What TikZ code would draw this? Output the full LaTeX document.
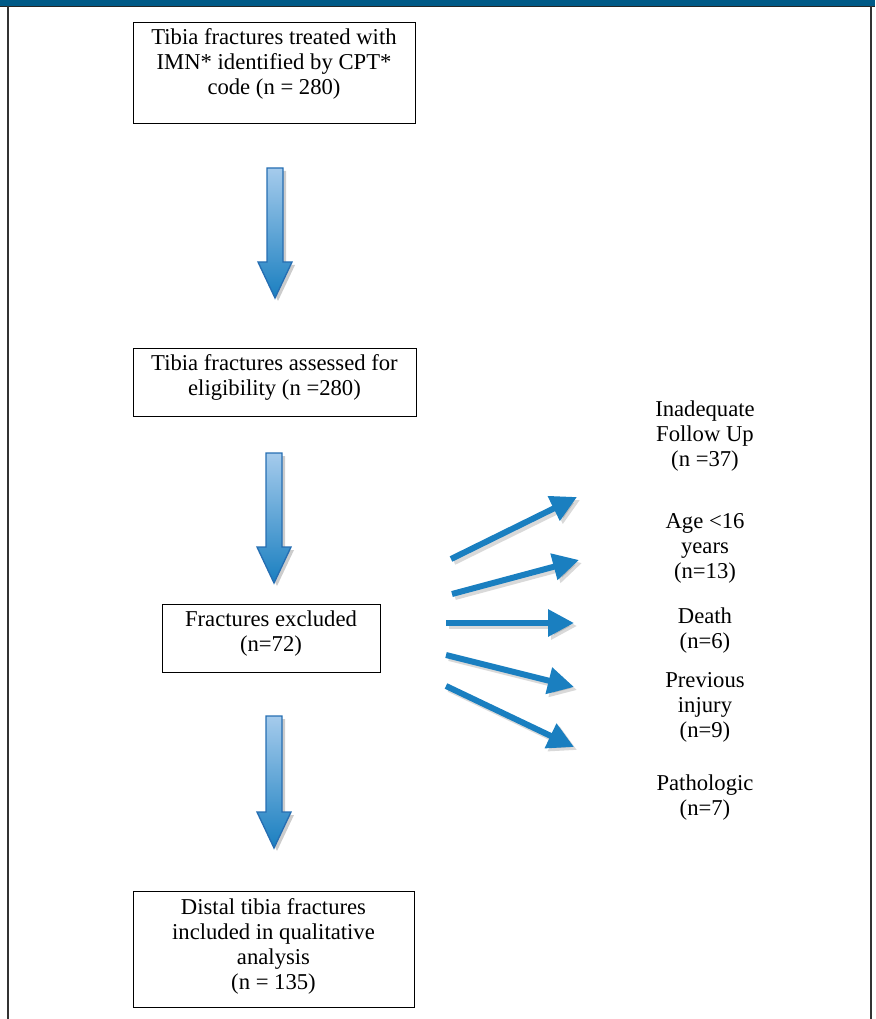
\documentclass[tikz,border=0pt]{standalone}
\usepackage{fontspec}
\setmainfont{Liberation Serif}
\usetikzlibrary{arrows.meta,calc}
\definecolor{band}{RGB}{0,90,135}
\definecolor{arrblue}{RGB}{26,127,192}
\definecolor{arrlight}{RGB}{165,203,236}
\definecolor{arredge}{RGB}{38,110,178}
\newcommand\myVArrow[4]{% name, cx, top, tip
  \coordinate (#1s) at (#2,#3);
  \coordinate (#1e) at (#2,#4);
  \fill[black,opacity=0.2] (#2-5,#3+3) -- (#2+11,#3+3) -- (#2+11,#4-33) -- (#2+20,#4-33) -- (#2+3,#4+3) -- (#2-14,#4-33) -- (#2-5,#4-33) -- cycle;
  \shade[top color=arrlight, bottom color=arrblue, draw=arredge, line width=1pt]
    (#2-8,#3) -- (#2+8,#3) -- (#2+8,#4-36) -- (#2+17,#4-36) -- (#1e) -- (#2-17,#4-36) -- (#2-8,#4-36) -- cycle;
}
\tikzset{
  box/.style={draw=black, line width=0.8pt, fill=white, inner sep=0pt},
  txt/.style={align=center, inner sep=0pt, font=\fontsize{17pt}{18.75pt}\selectfont},
  diag/.style={draw=arrblue, line width=4.5pt, -{Triangle[length=19.5pt,width=19.5pt]}},
  diagshadow/.style={draw=black, opacity=0.15, line width=4.5pt, -{Triangle[length=19.5pt,width=19.5pt]}},
}
\begin{document}
\begin{tikzpicture}[x=0.75pt,y=-0.75pt]
\useasboundingbox (0,0) rectangle (875,1019);
% frame
\fill[band] (0,0) rectangle (875,6);
\draw[line width=0.9pt, black!85] (0,6.5) -- (875,6.5);
\draw[line width=0.8pt, black!80] (8,6.5) -- (8,1019);
\draw[line width=0.8pt, black!80] (871,6.5) -- (871,1019);
% boxes
\node[box, minimum width=211.5pt, minimum height=75.75pt, anchor=north west] (b1) at (133,22) {};
\node[box, minimum width=212.25pt, minimum height=51pt, anchor=north west] (b2) at (133,348) {};
\node[box, minimum width=163.5pt, minimum height=51pt, anchor=north west] (b3) at (162,604) {};
\node[box, minimum width=210.75pt, minimum height=87pt, anchor=north west] (b4) at (133,891) {};
% box texts
\node[txt] (t1) at (274,64) {Tibia fractures treated with\\IMN* identified by CPT*\\code (n = 280)};
\node[txt] (t2) at (274.5,377.5) {Tibia fractures assessed for\\eligibility (n =280)};
\node[txt] (t3) at (271,633.5) {Fractures excluded\\(n=72)};
\node[txt] (t4) at (273.5,946) {Distal tibia fractures\\included in qualitative\\analysis\\(n = 135)};
% side labels
\node[txt] (l1) at (705,436) {Inadequate\\Follow Up\\(n =37)};
\node[txt] (l2) at (705,548) {Age <16\\years\\(n=13)};
\node[txt] (l3) at (705,631) {Death\\(n=6)};
\node[txt] (l4) at (705,707.5) {Previous\\injury\\(n=9)};
\node[txt] (l5) at (705,798) {Pathologic\\(n=7)};
% vertical block arrows
\myVArrow{va1}{275}{168}{298}
\myVArrow{va2}{274}{453}{583}
\myVArrow{va3}{274}{716}{848}
% diagonal arrows
\coordinate (d1s) at (451,559); \coordinate (d1e) at (577,497);
\coordinate (d2s) at (452,594); \coordinate (d2e) at (579,560);
\coordinate (d3s) at (446,623); \coordinate (d3e) at (574,623);
\coordinate (d4s) at (446,655); \coordinate (d4e) at (574,687);
\coordinate (d5s) at (446,686); \coordinate (d5e) at (574,747);
\foreach \i in {1,...,5}{
  \draw[diagshadow] ($(d\i s)+(3,3)$) -- ($(d\i e)+(3,3)$);
  \draw[diag] (d\i s) -- (d\i e);
}
\end{tikzpicture}
\end{document}
